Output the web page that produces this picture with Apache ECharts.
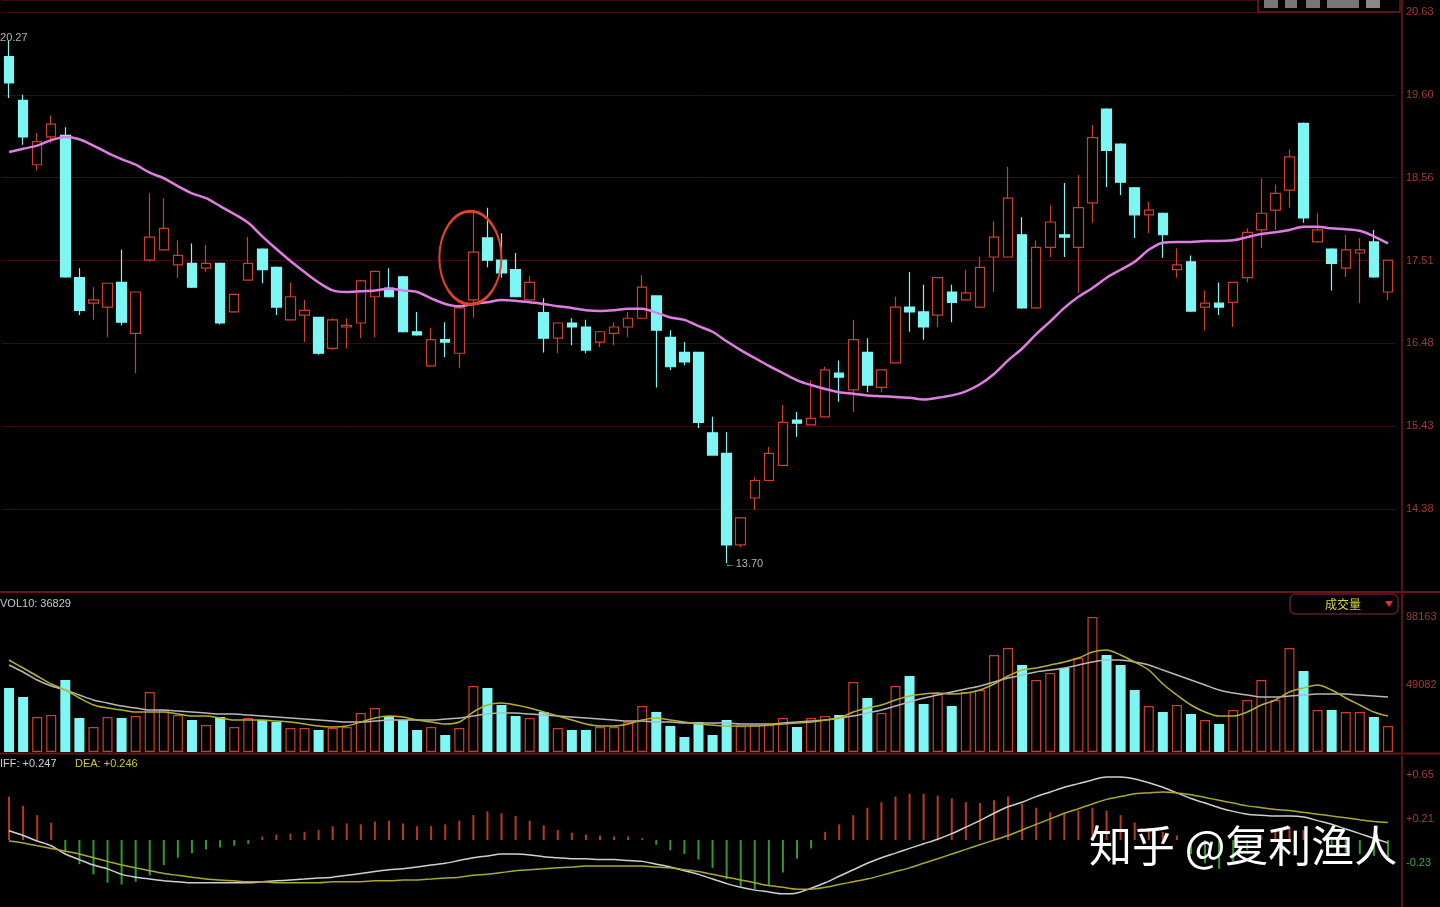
<!DOCTYPE html>
<html><head><meta charset="utf-8">
<script src="https://cdn.jsdelivr.net/npm/echarts@6/dist/echarts.min.js"></script>
<style>html,body{margin:0;padding:0;background:#000;overflow:hidden}#c{width:1440px;height:907px}</style>
</head><body><div id="c"></div>
<script>
// ---------- DATA ----------
const categories = Array.from({length: 99}, (_, i) => 'D' + (i + 1));
// [open, close, low, high]
const candles = [
[20.07,19.74,19.55,20.27],[19.52,19.06,18.96,19.59],[18.71,19.00,18.64,19.11],[19.06,19.22,18.98,19.33],[19.08,17.30,17.29,19.18],
[17.29,16.88,16.82,17.41],[16.97,17.01,16.76,17.17],[16.92,17.22,16.54,17.23],[17.23,16.73,16.69,17.64],[16.59,17.11,16.09,17.12],
[17.51,17.80,17.49,18.35],[17.64,17.91,17.63,18.29],[17.45,17.57,17.29,17.76],[17.47,17.17,17.16,17.72],[17.41,17.47,17.36,17.70],
[17.47,16.72,16.70,17.48],[16.86,17.08,16.85,17.09],[17.26,17.47,17.25,17.80],[17.65,17.39,17.22,17.66],[17.42,16.92,16.82,17.43],
[16.76,17.05,16.75,17.23],[16.82,16.88,16.48,17.01],[16.79,16.34,16.32,16.80],[16.40,16.76,16.38,16.78],[16.67,16.69,16.40,16.78],
[16.72,17.25,16.53,17.26],[17.05,17.37,16.54,17.38],[17.16,17.05,17.04,17.41],[17.30,16.61,16.60,17.31],[16.61,16.57,16.56,16.86],
[16.18,16.51,16.17,16.66],[16.51,16.48,16.29,16.73],[16.34,16.91,16.15,16.92],[17.01,17.61,16.79,18.14],[17.79,17.51,17.42,18.17],
[17.51,17.35,17.29,17.85],[17.39,17.05,17.04,17.60],[17.01,17.23,17.00,17.31],[16.85,16.53,16.35,17.03],[16.53,16.72,16.34,16.73],
[16.72,16.67,16.44,16.78],[16.67,16.38,16.34,16.76],[16.48,16.61,16.42,16.62],[16.59,16.67,16.44,16.73],[16.67,16.78,16.54,16.86],
[16.78,17.17,16.77,17.32],[17.06,16.63,15.91,17.07],[16.54,16.17,16.13,16.63],[16.35,16.23,16.19,16.48],[16.35,15.47,15.40,16.36],
[15.34,15.06,15.05,15.54],[15.08,13.93,13.70,15.35],[13.93,14.27,13.90,14.28],[14.52,14.74,14.37,14.78],[14.74,15.08,14.73,15.16],
[14.93,15.47,14.92,15.69],[15.50,15.46,15.29,15.60],[15.44,15.52,15.43,16.00],[15.54,16.13,15.53,16.17],[16.09,16.04,15.73,16.25],
[15.88,16.51,15.60,16.76],[16.35,15.94,15.85,16.53],[15.91,16.13,15.85,16.14],[16.22,16.92,16.21,17.05],[16.92,16.86,16.61,17.36],
[16.86,16.67,16.51,17.20],[16.82,17.29,16.67,17.30],[17.11,16.98,16.73,17.20],[17.01,17.10,17.00,17.39],[16.92,17.42,16.91,17.55],
[17.55,17.80,17.11,18.00],[17.55,18.29,17.54,18.68],[17.83,16.91,16.90,18.05],[16.91,17.67,16.90,17.76],[17.67,17.99,17.55,18.20],
[17.83,17.80,17.55,18.48],[17.67,18.17,17.10,18.58],[18.23,19.05,17.98,19.21],[19.41,18.89,18.43,19.42],[18.97,18.49,18.33,18.98],
[18.42,18.08,17.79,18.43],[18.08,18.14,17.85,18.24],[18.10,17.83,17.54,18.11],[17.39,17.45,17.29,17.66],[17.49,16.87,16.86,17.57],
[16.92,16.97,16.63,17.13],[16.97,16.92,16.82,17.23],[16.98,17.23,16.67,17.24],[17.29,17.86,17.23,17.91],[17.89,18.10,17.66,18.54],
[18.14,18.35,17.89,18.46],[18.39,18.81,18.17,18.90],[19.23,18.04,17.98,19.24],[17.74,17.89,17.73,18.10],[17.65,17.47,17.13,17.66],
[17.41,17.64,17.30,17.83],[17.60,17.64,16.97,17.79],[17.74,17.30,17.29,17.89],[17.11,17.51,17.01,17.52]
];
const priceMA = [
18.87,18.91,18.95,19.02,19.06,19.03,18.95,18.86,18.78,18.71,
18.61,18.54,18.44,18.35,18.29,18.19,18.09,17.98,17.81,17.65,
17.50,17.36,17.23,17.13,17.11,17.12,17.13,17.15,17.13,17.11,
17.03,16.96,16.93,16.96,16.98,17.01,17.00,16.98,16.96,16.93,
16.91,16.88,16.87,16.88,16.90,16.90,16.85,16.79,16.76,16.68,
16.61,16.49,16.38,16.28,16.18,16.09,16.00,15.94,15.89,15.85,
15.83,15.81,15.80,15.79,15.78,15.76,15.78,15.81,15.86,15.95,
16.08,16.25,16.40,16.58,16.74,16.91,17.05,17.16,17.29,17.39,
17.49,17.64,17.73,17.74,17.74,17.75,17.75,17.76,17.80,17.84,
17.86,17.89,17.93,17.93,17.91,17.90,17.88,17.81,17.72
];
const volume = [
46528,39985,25445,26899,52344,24718,18175,25445,24718,26172,
43620,30534,26899,23264,19629,25445,18175,24718,23264,21810,
17448,17448,15994,17448,18175,28353,31988,26172,23264,15994,
18175,12359,17448,47982,46528,34169,26172,24718,29080,17448,
15994,15994,18175,18175,21810,33442,29080,18902,10905,21810,
12359,23264,18902,19629,19629,24718,18175,24718,26172,26899,
50890,39258,28353,47982,55252,34896,42893,33442,43620,45074,
70519,75608,63249,52344,57433,61068,68338,98145,70519,63249,
45074,33442,29080,34169,27626,23264,20356,30534,37804,52344,
37804,75608,58887,30534,30534,29080,29080,25445,18902
];
const volMAWhite = [
63249,58160,52344,47982,45074,41439,37804,35623,33442,31988,
30534,30534,29807,29080,28353,27626,27626,26899,26172,25445,
24718,23991,23264,22537,21810,21810,22537,23264,23264,23264,
23264,23991,24718,26172,27626,28353,28353,27626,26899,26172,
25445,24718,23991,23264,22537,22537,21810,21810,21083,21083,
21083,21083,20356,20356,20356,21083,21810,22537,23264,24718,
26172,28353,30534,33442,36350,39258,41439,43620,45801,47982,
50890,53798,55979,58160,59614,61068,63249,65430,66884,66884,
65430,63249,59614,55979,52344,48709,45074,42893,41439,39985,
39985,40712,41439,42166,42166,42166,41439,40712,39985
];
const volMAYellow = [
66884,61068,55252,49436,45074,39258,34169,31988,30534,29080,
29080,29080,27626,26172,26172,24718,23264,23264,23264,22537,
21810,20356,18902,18175,18902,21810,24718,26172,25445,23264,
21810,20356,21810,29080,34169,35623,34169,31988,29080,26172,
23264,20356,18902,18902,20356,23264,24718,23264,21810,20356,
19629,18902,18902,18902,19629,20356,21083,21810,23264,24718,
29080,31988,34169,37804,40712,42166,42893,42166,42893,45074,
49436,55252,59614,61068,63249,65430,68338,72700,74154,70519,
65430,59614,49436,41439,34169,29080,26172,26172,29080,34169,
37804,43620,46528,48709,45074,39258,34169,29080,26172
];
const macdHist = [
0.436,0.343,0.250,0.176,-0.121,-0.241,-0.343,-0.427,-0.445,-0.417,
-0.353,-0.250,-0.176,-0.130,-0.093,-0.074,-0.056,-0.037,0.037,0.056,
0.065,0.083,0.102,0.139,0.167,0.158,0.186,0.195,0.167,0.139,
0.139,0.158,0.195,0.250,0.288,0.269,0.241,0.195,0.148,0.102,
0.074,0.056,0.046,0.037,0.037,0.019,-0.046,-0.102,-0.139,-0.195,
-0.278,-0.390,-0.464,-0.492,-0.455,-0.325,-0.186,-0.083,0.083,0.158,
0.250,0.325,0.380,0.436,0.464,0.464,0.445,0.417,0.380,0.371,
0.399,0.436,0.362,0.325,0.278,0.269,0.297,0.325,0.297,0.250,
0.176,0.121,0.083,0.046,-0.139,-0.232,-0.288,-0.213,-0.102,0.046,
0.102,0.139,0.102,-0.009,-0.074,-0.121,-0.139,-0.158,-0.176
];
const diffLine = [
0.093,0.046,-0.009,-0.056,-0.139,-0.195,-0.250,-0.288,-0.343,-0.371,
-0.390,-0.408,-0.417,-0.427,-0.427,-0.427,-0.427,-0.427,-0.417,-0.408,
-0.399,-0.390,-0.380,-0.371,-0.353,-0.334,-0.315,-0.297,-0.288,-0.269,
-0.250,-0.232,-0.204,-0.176,-0.158,-0.139,-0.139,-0.148,-0.167,-0.176,
-0.186,-0.186,-0.195,-0.195,-0.204,-0.213,-0.241,-0.269,-0.306,-0.343,
-0.390,-0.436,-0.473,-0.501,-0.519,-0.538,-0.529,-0.482,-0.427,-0.362,
-0.297,-0.232,-0.176,-0.130,-0.083,-0.037,0.009,0.065,0.130,0.195,
0.269,0.334,0.380,0.436,0.482,0.529,0.566,0.603,0.631,0.631,
0.612,0.575,0.529,0.473,0.417,0.371,0.325,0.288,0.260,0.250,
0.241,0.241,0.232,0.195,0.158,0.111,0.065,0.019,-0.028
];
const deaLine = [
-0.009,-0.028,-0.056,-0.083,-0.111,-0.139,-0.176,-0.213,-0.250,-0.278,
-0.306,-0.334,-0.353,-0.371,-0.390,-0.399,-0.408,-0.417,-0.417,-0.427,
-0.427,-0.427,-0.427,-0.417,-0.417,-0.417,-0.408,-0.408,-0.399,-0.399,
-0.390,-0.380,-0.371,-0.353,-0.343,-0.325,-0.306,-0.297,-0.288,-0.278,
-0.269,-0.260,-0.260,-0.260,-0.260,-0.260,-0.269,-0.278,-0.297,-0.315,
-0.343,-0.371,-0.399,-0.427,-0.455,-0.473,-0.492,-0.492,-0.473,-0.445,
-0.417,-0.390,-0.353,-0.315,-0.278,-0.232,-0.186,-0.139,-0.093,-0.046,
0.000,0.046,0.102,0.158,0.213,0.269,0.315,0.362,0.408,0.436,
0.464,0.473,0.482,0.473,0.455,0.427,0.399,0.371,0.343,0.325,
0.306,0.297,0.278,0.260,0.241,0.223,0.204,0.186,0.176
];
const priceTickLabels = ['14.38','15.43','16.48','17.51','18.56','19.60','20.63'];
const volTickLabels = ['49082','98163'];
const macdTickLabels = ['-0.23','+0.21','+0.65'];
const headerTexts = {vol: 'VOL10: 36829', diff: 'DIFF: +0.247', dea: 'DEA: +0.246', volSel: '成交量', hi: '20.27', lo: '←13.70', mark: '知乎 @复利渔人'};

// ---------- STYLE ----------
const RED = '#cc3f2c', CYAN = '#7ef6f4', PINK = '#e07ce4';
const GRID_RED = '#3e0b0b', AXIS_RED = '#7a1818', LABEL_RED = '#a23a32';
const P_MIN = 13.3383, P_INT = 1.041667, P_MAX = 20.781;
const V_INT = 49081.5, V_MAX = 114887;
const M_MIN = -0.67, M_INT = 0.44, M_MAX = 0.8426;

function tickFmt(min, step, labels) {
  return function (v) {
    const k = Math.round((v - min) / step);
    if (k >= 1 && k <= labels.length && Math.abs(v - (min + k * step)) < step * 1e-4) return labels[k - 1];
    return '';
  };
}

const chart = echarts.init(document.getElementById('c'), null, {renderer: 'canvas'});
const isUp = candles.map(c => c[1] >= c[0]);

const yBase = {
  type: 'value', position: 'right', offset: 7, scale: true,
  axisLine: {show: true, lineStyle: {color: AXIS_RED, width: 1.5}},
  axisTick: {show: false},
  splitLine: {show: true, lineStyle: {color: GRID_RED, width: 1}},
  axisLabel: {color: LABEL_RED, fontSize: 11, margin: 4, fontFamily: 'Liberation Sans, Arial', showMinLabel: false, showMaxLabel: false}
};

const option = {
  backgroundColor: '#000',
  animation: false,
  grid: [
    {left: 2, right: 45, top: 0, height: 592},
    {left: 2, right: 45, top: 594, height: 158},
    {left: 2, right: 45, top: 756, height: 163}
  ],
  xAxis: [0, 1, 2].map(i => ({
    type: 'category', gridIndex: i, data: categories, boundaryGap: true,
    axisLine: {show: false}, axisTick: {show: false}, axisLabel: {show: false}, splitLine: {show: false}
  })),
  yAxis: [
    Object.assign({}, yBase, {gridIndex: 0, min: P_MIN, max: P_MAX, interval: P_INT,
      axisLabel: Object.assign({}, yBase.axisLabel, {formatter: tickFmt(P_MIN, P_INT, priceTickLabels)})}),
    Object.assign({}, yBase, {gridIndex: 1, min: 0, max: V_MAX, interval: V_INT,
      splitLine: {show: false},
      axisLabel: Object.assign({}, yBase.axisLabel, {formatter: tickFmt(0, V_INT, volTickLabels)})}),
    Object.assign({}, yBase, {gridIndex: 2, min: M_MIN, max: M_MAX, interval: M_INT,
      splitLine: {show: false},
      axisLabel: Object.assign({}, yBase.axisLabel, {
        formatter: function (v) {
          const t = tickFmt(M_MIN, M_INT, macdTickLabels)(v);
          if (!t) return '';
          return t.charAt(0) === '-' ? '{g|' + t + '}' : t;
        },
        rich: {g: {color: '#3aa83a', fontSize: 11, fontFamily: 'Liberation Sans, Arial'}}
      })})
  ],
  series: [
    {
      type: 'candlestick', xAxisIndex: 0, yAxisIndex: 0, data: candles, barWidth: 10,
      itemStyle: {color: '#000', color0: CYAN, borderColor: RED, borderColor0: CYAN, borderWidth: 1.2}
    },
    {
      type: 'line', xAxisIndex: 0, yAxisIndex: 0, data: priceMA, symbol: 'none', smooth: 0.3,
      lineStyle: {color: PINK, width: 2.5}, z: 5
    },
    {
      type: 'bar', xAxisIndex: 1, yAxisIndex: 1, barWidth: 10,
      data: volume.map((v, i) => ({value: v, itemStyle: isUp[i]
        ? {color: '#000', borderColor: RED, borderWidth: 1.2}
        : {color: CYAN, borderColor: CYAN, borderWidth: 0}}))
    },
    {type: 'line', xAxisIndex: 1, yAxisIndex: 1, data: volMAWhite, symbol: 'none', smooth: 0.3, lineStyle: {color: '#b8b8b8', width: 1.5}, z: 5},
    {type: 'line', xAxisIndex: 1, yAxisIndex: 1, data: volMAYellow, symbol: 'none', smooth: 0.3, lineStyle: {color: '#b3b032', width: 1.5}, z: 5},
    {
      type: 'bar', xAxisIndex: 2, yAxisIndex: 2, barWidth: 2,
      data: macdHist.map(v => ({value: v, itemStyle: {color: v >= 0 ? '#b83828' : '#2f9a2f'}}))
    },
    {type: 'line', xAxisIndex: 2, yAxisIndex: 2, data: diffLine, symbol: 'none', smooth: 0.3, lineStyle: {color: '#d0d0d0', width: 1.5}, z: 5},
    {type: 'line', xAxisIndex: 2, yAxisIndex: 2, data: deaLine, symbol: 'none', smooth: 0.3, lineStyle: {color: '#aaa830', width: 1.5}, z: 5}
  ]
};
chart.setOption(option);

// annotations positioned through the chart's own scales
const hiIdx = 0, loIdx = 51, circIdx = 33;
const pHi = chart.convertToPixel({xAxisIndex: 0, yAxisIndex: 0}, [hiIdx, candles[hiIdx][3]]);
const pLo = chart.convertToPixel({xAxisIndex: 0, yAxisIndex: 0}, [loIdx, candles[loIdx][2]]);
const pC = chart.convertToPixel({xAxisIndex: 0, yAxisIndex: 0}, [circIdx, (candles[circIdx][2] + candles[circIdx][3]) / 2]);

chart.setOption({
  graphic: [
    {type: 'line', shape: {x1: 0, y1: 592, x2: 1440, y2: 592}, style: {stroke: '#6e1414', lineWidth: 2}},
    {type: 'line', shape: {x1: 0, y1: 753.5, x2: 1440, y2: 753.5}, style: {stroke: '#6e1414', lineWidth: 2}},
    {type: 'text', x: pHi[0] - 9, y: pHi[1] - 3, style: {text: headerTexts.hi, fill: '#b5b5b5', fontSize: 11, fontFamily: 'Liberation Sans, Arial', textVerticalAlign: 'middle'}},
    {type: 'text', x: pLo[0] - 2, y: pLo[1] + 1, style: {text: headerTexts.lo, fill: '#b5b5b5', fontSize: 11, fontFamily: 'Liberation Sans, Arial', textVerticalAlign: 'middle'}},
    {type: 'circle', x: pC[0] - 3, y: pC[1] - 6, scaleX: 1, scaleY: 1.5, shape: {cx: 0, cy: 0, r: 31}, style: {fill: 'none', stroke: '#e0402c', lineWidth: 2}, z: 10},
    {type: 'text', x: 0, y: 604, style: {text: headerTexts.vol, fill: '#c8c8c8', fontSize: 11, fontFamily: 'Liberation Sans, Arial', textVerticalAlign: 'middle'}},
    {type: 'text', x: -8, y: 764, style: {text: headerTexts.diff, fill: '#d0d0d0', fontSize: 11, fontFamily: 'Liberation Sans, Arial', textVerticalAlign: 'middle'}},
    {type: 'text', x: 75, y: 764, style: {text: headerTexts.dea, fill: '#c8c83a', fontSize: 11, fontFamily: 'Liberation Sans, Arial', textVerticalAlign: 'middle'}},
    {type: 'rect', shape: {x: 1290, y: 594, width: 108, height: 20, r: 5}, style: {fill: '#000', stroke: '#5e1a3c', lineWidth: 1.5}, z: 20},
    {type: 'text', x: 1343, y: 604, style: {text: headerTexts.volSel, fill: '#d6d640', fontSize: 12, fontFamily: 'Noto Sans CJK SC', textAlign: 'center', textVerticalAlign: 'middle'}, z: 21},
    {type: 'polygon', shape: {points: [[1385, 601], [1393, 601], [1389, 607]]}, style: {fill: '#e03040'}, z: 21},
    {type: 'rect', shape: {x: 1258, y: -4, width: 142, height: 16}, style: {fill: '#000', stroke: '#7a1818', lineWidth: 1.5}, z: 20},
    {type: 'rect', shape: {x: 1264, y: 0, width: 14, height: 8}, style: {fill: '#777'}, z: 21},
    {type: 'rect', shape: {x: 1285, y: 0, width: 12, height: 8}, style: {fill: '#777'}, z: 21},
    {type: 'rect', shape: {x: 1306, y: 0, width: 14, height: 8}, style: {fill: '#777'}, z: 21},
    {type: 'rect', shape: {x: 1327, y: 0, width: 32, height: 8}, style: {fill: '#777'}, z: 21},
    {type: 'rect', shape: {x: 1366, y: 0, width: 14, height: 8}, style: {fill: '#888'}, z: 21},
    {type: 'text', x: 1089, y: 846, style: {text: headerTexts.mark, fill: '#ffffff', fontSize: 43, fontFamily: 'Noto Sans CJK SC', textVerticalAlign: 'middle'}, z: 30}
  ]
});
</script>
</body></html>
